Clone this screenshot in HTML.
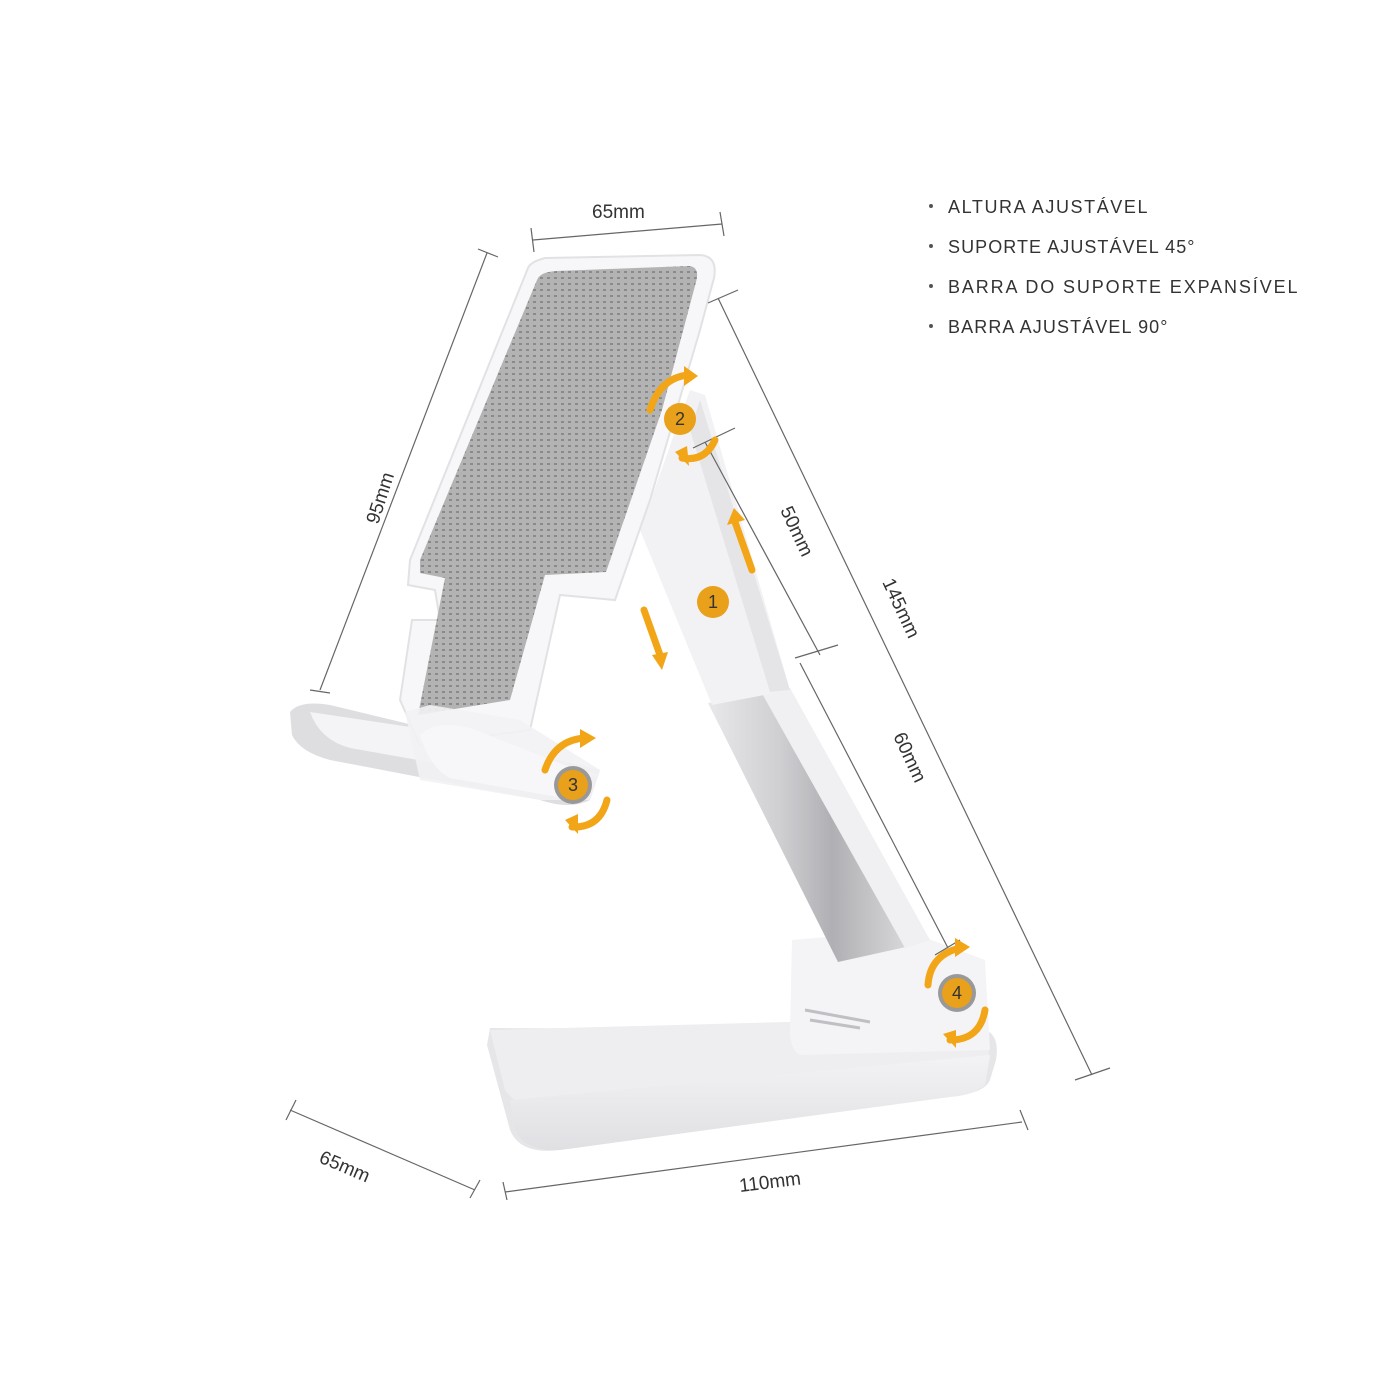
<!DOCTYPE html>
<html><head><meta charset="utf-8"><style>
html,body{margin:0;padding:0;background:#fff;}
svg{display:block;}
text{font-family:"Liberation Sans",sans-serif;fill:#333;}
</style></head><body>
<svg width="1400" height="1400" viewBox="0 0 1400 1400" xmlns="http://www.w3.org/2000/svg">
<defs>
<pattern id="mesh" width="7" height="6" patternUnits="userSpaceOnUse">
<rect width="7" height="6" fill="#b3b3b3"/>
<rect x="1" y="1" width="3" height="2" fill="#8a8a8a"/>
</pattern>
<linearGradient id="silver" x1="0" y1="0" x2="1" y2="0">
<stop offset="0" stop-color="#e8e8ea"/><stop offset="0.35" stop-color="#cfcfd2"/><stop offset="0.6" stop-color="#b0b0b4"/><stop offset="1" stop-color="#dcdcde"/>
</linearGradient>
<linearGradient id="basefront" x1="0" y1="0" x2="0" y2="1">
<stop offset="0" stop-color="#f3f3f5"/><stop offset="1" stop-color="#e0e0e3"/>
</linearGradient>
</defs>

<g font-size="18" letter-spacing="0.5" fill="#3a3a3a">
<circle cx="931" cy="206" r="2" fill="#555"/><text x="948" y="213" textLength="200">ALTURA AJUSTÁVEL</text>
<circle cx="931" cy="246" r="2" fill="#555"/><text x="948" y="253" textLength="247">SUPORTE AJUSTÁVEL 45°</text>
<circle cx="931" cy="286" r="2" fill="#555"/><text x="948" y="293" textLength="350">BARRA DO SUPORTE EXPANSÍVEL</text>
<circle cx="931" cy="326" r="2" fill="#555"/><text x="948" y="333" textLength="220">BARRA AJUSTÁVEL 90°</text>
</g>

<path d="M490,1028 L985,1030 Q1000,1035 996,1060 L990,1080 Q985,1092 960,1095 L560,1150 Q520,1155 510,1130 L487,1045 Z" fill="#e6e6e9"/>
<path d="M490,1030 L860,1020 L985,1030 L990,1060 L560,1110 Q520,1112 505,1090 Z" fill="#eeeef0"/>
<path d="M510,1100 L990,1055 L985,1085 Q975,1095 950,1097 L560,1150 Q525,1152 515,1130 Z" fill="url(#basefront)"/>
<path d="M792,940 L905,930 L985,960 L990,1050 L800,1055 Q790,1050 790,1030 Z" fill="#f4f4f6"/>
<path d="M805,1010 L870,1022 M810,1020 L860,1028" stroke="#c0c0c4" stroke-width="3"/>
<path d="M708,703 L775,692 L915,945 L838,962 Z" fill="url(#silver)"/>
<path d="M760,690 L790,688 L930,940 L905,948 Z" fill="#f0f0f2"/>
<path d="M640,530 L690,390 L705,395 L790,690 L712,705 Z" fill="#f2f2f4"/>
<path d="M700,400 L790,690 L770,692 L690,430 Z" fill="#e5e5e8"/>
<path d="M290,712 Q300,700 330,705 L600,770 L590,800 Q570,810 540,800 L330,760 Q300,752 292,735 Z" fill="#dedee1"/>
<path d="M310,712 L430,730 L600,775 L560,785 L350,748 Q320,740 310,712 Z" fill="#f4f4f6"/>
<path d="M528,268 Q530,262 545,258 L700,255 Q718,256 714,278 L700,330 L650,500 L615,600 L560,595 L530,730 L420,745 L400,700 L412,620 L440,620 L435,590 L408,585 L410,560 Z" fill="#f7f7f9" stroke="#e2e2e5" stroke-width="2"/>
<path d="M537,280 Q540,272 556,271 L690,266 Q700,268 696,282 L662,410 L606,572 L545,575 L510,700 L418,715 L445,578 L420,573 L420,560 Z" fill="url(#mesh)"/>
<path d="M405,712 L430,705 L520,720 L600,770 L590,800 L540,800 L420,780 Z" fill="#f2f2f4" opacity="0.9"/>
<path d="M420,735 Q435,720 470,728 L590,775 L575,800 L450,778 Q430,768 420,735 Z" fill="#f7f7f9"/>

<g stroke="#666" stroke-width="1.2" fill="none">
<path d="M533,240 L722,224 M531,228 L534,252 M720,212 L724,236"/>
<path d="M487,253 L320,690 M478,249 L498,257 M310,690 L330,693"/>
<path d="M718,298 L1092,1075 M708,303 L738,290 M1075,1080 L1110,1068"/>
<path d="M705,442 L820,655 M693,448 L735,428"/>
<path d="M800,663 L948,948 M795,658 L838,645 M935,955 L960,940"/>
<path d="M290,1110 L475,1190 M286,1120 L296,1100 M470,1198 L480,1180"/>
<path d="M505,1192 L1022,1122 M503,1182 L507,1200 M1020,1110 L1028,1130"/>
</g>
<g font-size="19" fill="#333">
<text x="592" y="218">65mm</text>
<text transform="translate(378,525) rotate(-72)">95mm</text>
<text transform="translate(882,582) rotate(65)">145mm</text>
<text transform="translate(780,510) rotate(65)">50mm</text>
<text transform="translate(893,736) rotate(65)">60mm</text>
<text transform="translate(318,1162) rotate(23)">65mm</text>
<text transform="translate(740,1192) rotate(-7)">110mm</text>
</g>

<g stroke="none">
<circle cx="680" cy="419" r="16" fill="#e9a01b"/>
<circle cx="713" cy="602" r="16" fill="#e9a01b"/>
<circle cx="573" cy="785" r="19" fill="#999"/><circle cx="573" cy="785" r="15" fill="#e9a01b"/>
<circle cx="957" cy="993" r="19" fill="#999"/><circle cx="957" cy="993" r="15" fill="#e9a01b"/>
</g>
<g fill="none" stroke="#f2a516" stroke-width="7" stroke-linecap="round">
<path d="M650,410 Q660,378 688,375"/>
<path d="M682,458 Q705,462 715,440"/>
<path d="M545,770 Q555,740 585,738"/>
<path d="M572,827 Q600,828 607,800"/>
<path d="M928,985 Q930,955 960,948"/>
<path d="M950,1040 Q980,1040 985,1010"/>
<path d="M735,522 L752,570"/>
<path d="M644,610 L660,655"/>
</g>
<g fill="#f2a516">
<path d="M684,366 L698,376 L684,386 Z"/>
<path d="M675,452 L687,446 L689,466 Z"/>
<path d="M580,729 L596,738 L580,748 Z"/>
<path d="M565,820 L578,814 L578,834 Z"/>
<path d="M955,938 L970,947 L955,957 Z"/>
<path d="M943,1034 L956,1030 L956,1048 Z"/>
<path d="M727,525 L734,508 L745,520 Z"/>
<path d="M652,655 L668,652 L662,670 Z"/>
</g>
<g font-size="18" text-anchor="middle">
<text x="680" y="425" fill="#fbe3a8">2</text><text x="713" y="608" fill="#fbe3a8">1</text>
<text x="573" y="791" fill="#fbe3a8">3</text><text x="957" y="999" fill="#fbe3a8">4</text>
</g>
</svg>
</body></html>
